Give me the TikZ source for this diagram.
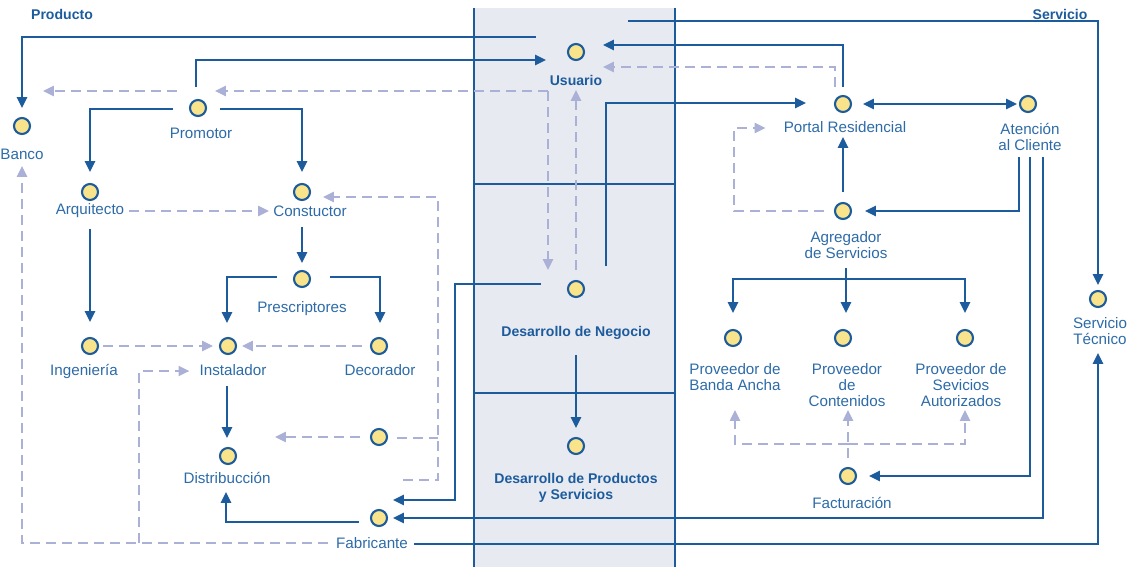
\documentclass[tikz,border=0pt]{standalone}
\usepackage{fontspec}
\setmainfont{Liberation Sans}
\usetikzlibrary{arrows.meta,calc}
\definecolor{lineblue}{HTML}{1C5B9C}
\definecolor{textblue}{HTML}{2D6BA8}
\definecolor{dashlilac}{HTML}{ABB0D6}
\definecolor{bandgray}{HTML}{E8EAF2}
\definecolor{dotyellow}{HTML}{F9E48C}
\tikzset{>={Triangle[length=0.27cm,width=0.25cm]}}

\begin{document}
\begin{tikzpicture}[x=0.025cm,y=-0.025cm,
    dot/.style={circle,draw=lineblue,fill=dotyellow,line width=1.5pt,minimum size=0.4cm,inner sep=0},
    lbl/.style={text=textblue,align=center,inner sep=0,font=\fontsize{10.8}{11.6}\selectfont},
    head/.style={text=lineblue,align=center,inner sep=0,font=\bfseries\fontsize{10}{11.6}\selectfont},
    link/.style={draw=lineblue,line width=1.6pt},
    flow/.style={link,->},
    dlink/.style={draw=dashlilac,line width=1.4pt,dash pattern=on 0.25cm off 0.15cm},
    dflow/.style={dlink,->}]
    \useasboundingbox (0,0) rectangle (1128,567);

    % central band
    \fill[bandgray] (474,8) rectangle (675,567);
    \draw[link] (474,8) -- (474,567);
    \draw[link] (675,8) -- (675,567);
    \draw[link] (474,184) -- (675,184);
    \draw[link] (474,393) -- (675,393);

    \node[head] (prod-t) at (62,14) {Producto};
    \node[head] (serv-t) at (1060,14) {Servicio};

    % band nodes
    \node[dot] (usu) at (576,52) {};
    \node[head] (usu-l) at (576,80) {Usuario};
    \node[dot] (neg) at (576,289) {};
    \node[head] (neg-l) at (576,333) {Desarrollo de Negocio};
    \node[dot] (dps) at (576,446) {};
    \node[head] (dps-l) at (576,488) {Desarrollo de Productos\\y Servicios};

    % producto side
    \node[dot] (banco) at (22,126) {};
    \node[lbl] (banco-l) at (22,154) {Banco};
    \node[dot] (pro) at (198,108) {};
    \node[lbl] (pro-l) at (201,133) {Promotor};
    \node[dot] (arq) at (90,192) {};
    \node[lbl] (arq-l) at (90,211) {Arquitecto};
    \node[dot] (cons) at (302,192) {};
    \node[lbl] (cons-l) at (310,211) {Constuctor};
    \node[dot] (pres) at (302,279) {};
    \node[lbl] (pres-l) at (302,309) {Prescriptores};
    \node[dot] (ing) at (90,346) {};
    \node[lbl] (ing-l) at (84,371) {Ingeniería};
    \node[dot] (inst) at (228,346) {};
    \node[lbl] (inst-l) at (233,370) {Instalador};
    \node[dot] (deco) at (379,346) {};
    \node[lbl] (deco-l) at (380,370) {Decorador};
    \node[dot] (dn) at (379,437) {};
    \node[dot] (dist) at (228,456) {};
    \node[lbl] (dist-l) at (227,478) {Distribucción};
    \node[dot] (fab) at (379,518) {};
    \node[lbl] (fab-l) at (372,543) {Fabricante};
    \coordinate (fork) at (139,543);

    % servicio side
    \node[dot] (portal) at (843,104) {};
    \node[lbl] (portal-l) at (845,127) {Portal Residencial};
    \node[dot] (aten) at (1028,104) {};
    \node[lbl] (aten-l) at (1030,137) {Atención\\al Cliente};
    \node[dot] (agre) at (843,211) {};
    \node[lbl] (agre-l) at (846,245) {Agregador\\de Servicios};
    \node[dot] (pba) at (733,338) {};
    \node[lbl] (pba-l) at (735,377) {Proveedor de\\Banda Ancha};
    \node[dot] (pco) at (843,338) {};
    \node[lbl] (pco-l) at (847,385) {Proveedor\\de\\Contenidos};
    \node[dot] (psa) at (965,338) {};
    \node[lbl] (psa-l) at (961,385) {Proveedor de\\Sevicios\\Autorizados};
    \node[dot] (fact) at (848,476) {};
    \node[lbl] (fact-l) at (852,503) {Facturación};
    \node[dot] (stec) at (1098,299) {};
    \node[lbl] (stec-l) at (1100,331) {Servicio\\Técnico};

    % solid connectors
    \draw[flow] ($(usu)+(-40,-15)$) -| ($(banco)+(0,-18)$);
    \draw[flow] ($(pro)+(-2,-21)$) |- ($(usu)+(-30,8)$);
    \draw[flow] ($(portal)+(0,-17)$) |- ($(usu)+(27,-7)$);
    \draw[flow] ($(usu)+(52,-31)$) -| ($(stec)+(0,-14)$);
    \draw[flow] ($(neg)+(30,-23)$) |- ($(portal)+(-37,-1)$);
    \draw[flow] ($(neg)+(-35,-5)$) -| ($(fab)+(76,-18)$) -- ($(fab)+(14,-18)$);
    \draw[flow] ($(neg)+(0,66)$) -- ($(dps)+(0,-18)$);
    \draw[link,<->] ($(portal)+(20,0)$) -- ($(aten)+(-11,0)$);
    \draw[flow] ($(agre)+(0,-19)$) -- ($(portal)+(0,33)$);
    \draw[flow] ($(aten)+(-9,53)$) |- ($(agre)+(22,0)$);
    \draw[flow] ($(aten)+(2,53)$) |- ($(fact)+(21,0)$);
    \draw[flow] ($(aten)+(15,53)$) |- ($(fab)+(14,0)$);
    \draw[flow] ($(fab-l.east)+(6,1)$) -| ($(stec)+(0,54)$);
    \draw[flow] ($(agre)+(3,57)$) -- ($(pco)+(3,-25)$);
    \draw[flow] ($(pco)+(3,-59)$) -| ($(pba)+(0,-25)$);
    \draw[flow] ($(pco)+(3,-59)$) -| ($(psa)+(0,-25)$);
    \draw[flow] ($(pro)+(-25,1)$) -| ($(arq)+(0,-20)$);
    \draw[flow] ($(pro)+(22,1)$) -| ($(cons)+(0,-20)$);
    \draw[flow] ($(arq)+(0,37)$) -- ($(ing)+(0,-24)$);
    \draw[flow] ($(cons)+(0,35)$) -- ($(pres)+(0,-16)$);
    \draw[flow] ($(pres)+(-25,-2)$) -| ($(inst)+(-1,-23)$);
    \draw[flow] ($(pres)+(28,-2)$) -| ($(deco)+(1,-23)$);
    \draw[flow] ($(inst)+(-1,40)$) -- ($(dist)+(-1,-18)$);
    \draw[flow] ($(fab)+(-20,4)$) -| ($(dist-l)+(-1,14)$);

    % dashed connectors
    \draw[dflow] ($(usu)+(-28,39)$) -- ($(pro)+(17,-17)$);
    \draw[dflow] ($(pro)+(-21,-17)$) -- ($(banco)+(21,-35)$);
    \draw[dflow] ($(usu)+(-28,39)$) -- ($(neg)+(-28,-19)$);
    \draw[dflow] ($(neg)+(0,-19)$) -- ($(usu)+(0,38)$);
    \draw[dflow] ($(portal)+(-8,-17)$) |- ($(usu)+(27,15)$);
    \draw[dflow] ($(agre)+(-19,0)$) -- ++(-90,0) |- ($(portal-l.west)+(-18,1)$);
    \draw[dflow] ($(arq-l.east)+(5,0)$) -- ($(cons-l.west)+(-4,0)$);
    \draw[dflow] ($(fab)+(24,-38)$) -- ++(35,0) |- ($(cons)+(21,5)$);
    \draw[dlink] ($(dn)+(18,1)$) -- ++(41,0);
    \draw[dflow] ($(dn)+(-19,0)$) -- ($(dist)+(47,-19)$);
    \draw[dflow] ($(ing)+(13,0)$) -- ($(inst)+(-15,0)$);
    \draw[dflow] ($(deco)+(-17,0)$) -- ($(inst)+(14,0)$);
    \draw[dflow] ($(fab-l.west)+(-8,0)$) -| ($(banco)+(0,40)$);
    \draw[dflow] (fork) |- ($(inst-l.west)+(-10,1)$);
    \draw[dflow] ($(fact)+(0,-18)$) -- ($(pco)+(5,72)$);
    \draw[dflow] ($(fact)+(0,-32)$) -| ($(pba)+(2,72)$);
    \draw[dflow] ($(fact)+(0,-32)$) -| ($(psa)+(0,72)$);
\end{tikzpicture}
\end{document}
